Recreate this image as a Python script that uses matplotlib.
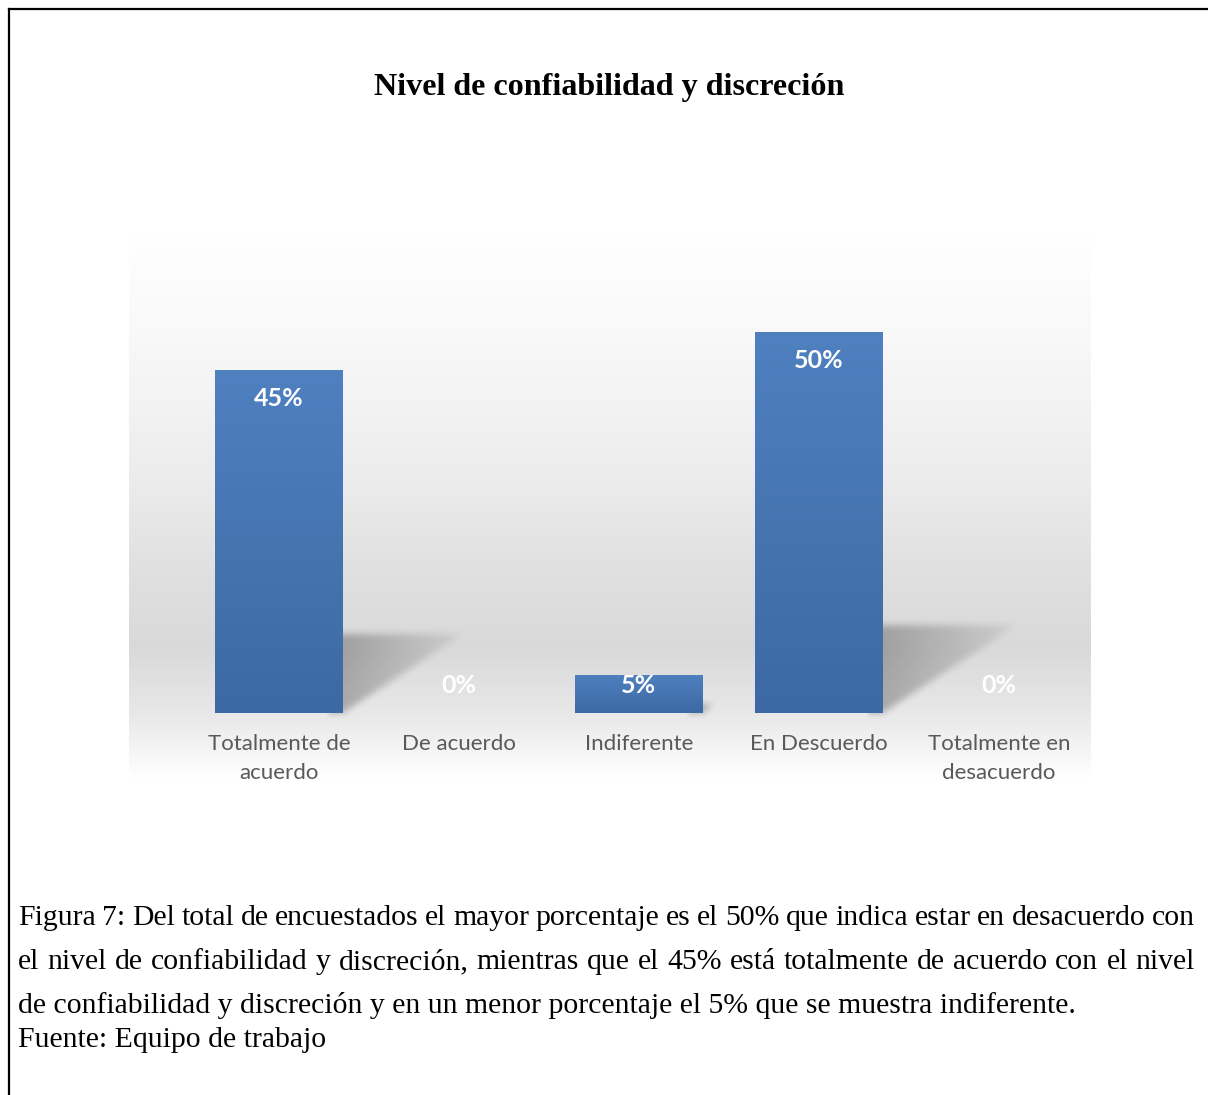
#!/usr/bin/env python3
"""
Bar chart: Nivel de confiabilidad y discreción (survey results, Figura 7).
"""

import numpy as np
import matplotlib
matplotlib.use("Agg")
import matplotlib.pyplot as plt
from matplotlib.colors import LinearSegmentedColormap
from matplotlib.lines import Line2D

# --- data -------------------------------------------------------------------
categories = [
    "Totalmente de\nacuerdo",
    "De acuerdo",
    "Indiferente",
    "En Descuerdo",
    "Totalmente en\ndesacuerdo",
]
values = [45, 0, 5, 50, 0]
value_labels = ["45%", "0%", "5%", "50%", "0%"]

title = "Nivel de confiabilidad y discreción"
caption_lines = [
    "Figura 7: Del total de encuestados el mayor porcentaje es el 50% que indica estar en desacuerdo con",
    "el nivel de confiabilidad y discreción, mientras que el 45% está totalmente de acuerdo con el nivel",
    "de confiabilidad y discreción y en un menor porcentaje el 5% que se muestra indiferente.",
    "Fuente: Equipo de trabajo",
]

W, H = 1208, 1095
DPI = 100

fig = plt.figure(figsize=(W / DPI, H / DPI), dpi=DPI)
fig.patch.set_facecolor("white")

# frame of the page box (top and left edges)
fig.add_artist(Line2D([9 / W, 1.0], [1 - 9 / H, 1 - 9 / H], color="black", lw=1.6))
fig.add_artist(Line2D([9 / W, 9 / W], [0.0, 1 - 9 / H], color="black", lw=1.6))

# title
fig.text(609 / W, 1 - 88 / H, title, ha="center", va="center",
         family="Liberation Serif", fontweight="bold", fontsize=23.1)

# --- chart area -------------------------------------------------------------
left, top, right, bottom = 129, 233, 1091, 780
ax = fig.add_axes([left / W, 1 - bottom / H, (right - left) / W, (bottom - top) / H])
ax.set_axis_off()
ax.set_xlim(-0.833, 4.511)
ax.set_ylim(-8.8, 63.0)
x0, x1 = ax.get_xlim()
y0, y1 = ax.get_ylim()

# background gradient (white at top -> grey low down -> white at bottom)
bg_cmap = LinearSegmentedColormap.from_list(
    "bg",
    [(0.0, "#ffffff"), (0.2, "#f8f8f8"), (0.45, "#ececec"),
     (0.62, "#e0e0e0"), (0.76, "#d9d9d9"), (0.88, "#e8e8e8"), (1.0, "#ffffff")],
)
grad = np.linspace(0, 1, 256).reshape(-1, 1)
ax.imshow(grad, cmap=bg_cmap, extent=[x0, x1, y0, y1], aspect="auto",
          origin="upper", zorder=0, interpolation="bilinear")

x = np.arange(len(categories))
bar_w = 0.711
px_x = (right - left) / (x1 - x0)   # pixels per x unit
px_y = (bottom - top) / (y1 - y0)   # pixels per y unit


def box_blur(a, k):
    kern = np.ones(k) / k
    a = np.apply_along_axis(lambda r: np.convolve(r, kern, mode="same"), 1, a)
    a = np.apply_along_axis(lambda c: np.convolve(c, kern, mode="same"), 0, a)
    return a


# perspective shadows behind the bars
for xi, v in zip(x, values):
    if v <= 0:
        continue
    h_px = v * px_y
    dx_px, dy_px = 0.35 * h_px, 0.23 * h_px
    pad = 16
    nx, ny = int(dx_px + 2 * pad), int(dy_px + 2 * pad)
    gx = np.arange(nx) - pad          # pixel offset from bar right edge
    gy = np.arange(ny) - pad          # pixel offset above baseline
    GX, GY = np.meshgrid(gx, gy)
    mask = ((GX >= -20) & (GY <= dy_px) & (GY >= GX * dy_px / dx_px) & (GY >= 0)).astype(float)
    mask = box_blur(box_blur(mask, 9), 7)
    fade = np.clip(1 - 0.8 * np.clip(GX / dx_px, 0, 1), 0, 1)
    alpha = 0.26 * mask * fade
    img = np.zeros((ny, nx, 4))
    img[..., 3] = alpha
    xr = xi + bar_w / 2
    ext = [xr - pad / px_x, xr + (nx - pad) / px_x, -pad / px_y, (ny - pad) / px_y]
    ax.imshow(img, extent=ext, origin="lower", aspect="auto", zorder=1,
              interpolation="bilinear")

# bars with vertical gradient
bars = ax.bar(x, values, width=bar_w, color="#4677b4", zorder=2, linewidth=0)
bar_cmap = LinearSegmentedColormap.from_list("bar", ["#3c69a4", "#4f80bf"])
for b in bars:
    if b.get_height() <= 0:
        continue
    bx, by = b.get_x(), b.get_y()
    bw, bh = b.get_width(), b.get_height()
    im = ax.imshow(np.linspace(0, 1, 256).reshape(-1, 1), cmap=bar_cmap,
                   extent=[bx, bx + bw, by, by + bh], origin="lower",
                   aspect="auto", zorder=3)
    im.set_clip_path(b)

ax.set_xlim(x0, x1)
ax.set_ylim(y0, y1)

# value labels
for xi, v, lab in zip(x, values, value_labels):
    ly = max(v - 28 / px_y, 27 / px_y)
    ax.text(xi, ly, lab, ha="center", va="center", color="white",
            family="Lato", fontweight="bold", fontsize=18, zorder=4)

# category labels
for xi, cat in zip(x, categories):
    ax.text(xi, -21 / px_y, cat, ha="center", va="top", color="#595959",
            family="Lato", fontsize=16, linespacing=1.55, zorder=4)

# --- caption (justified lines) ---------------------------------------------
cap_font = dict(family="Liberation Serif", fontsize=21.4, color="black")
renderer = fig.canvas.get_renderer()
cap_left, cap_right = 18, 1195
baselines = [925, 969, 1013, 1047]


def text_width(s):
    t = fig.text(0, 0, s, **cap_font)
    w = t.get_window_extent(renderer).width
    t.remove()
    return w


for i, (line, base) in enumerate(zip(caption_lines, baselines)):
    yb = 1 - base / H
    if i < 2:
        words = line.split(" ")
        widths = [text_width(w) for w in words]
        gap = (cap_right - cap_left - sum(widths)) / (len(words) - 1)
        xp = cap_left
        for w, ww in zip(words, widths):
            fig.text(xp / W, yb, w, ha="left", va="baseline", **cap_font)
            xp += ww + gap
    else:
        fig.text(cap_left / W, yb, line, ha="left", va="baseline", **cap_font)

fig.savefig("out.png", dpi=DPI)
